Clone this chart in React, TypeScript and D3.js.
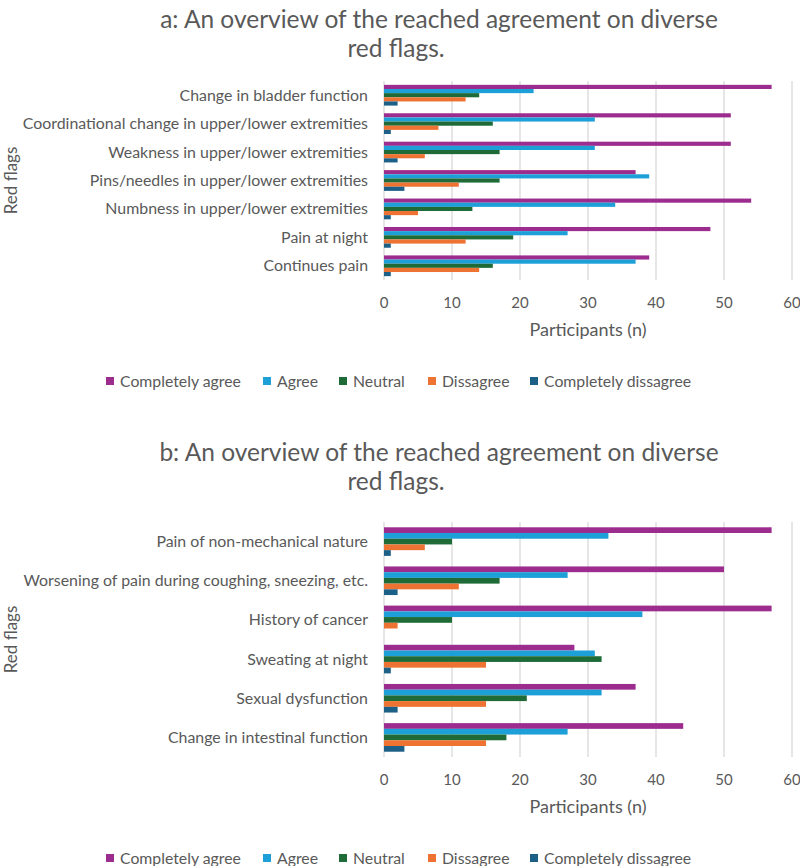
import React from "react";
import * as d3 from "d3";

// ---------- data ----------
const seriesNames = ["Completely agree", "Agree", "Neutral", "Dissagree", "Completely dissagree"];
const seriesColors = ["#9C2C8E", "#1D9FD8", "#1E6B38", "#EE7231", "#1C5F87"];

const categoriesA = [
  "Change in bladder function",
  "Coordinational change in upper/lower extremities",
  "Weakness in upper/lower extremities",
  "Pins/needles in upper/lower extremities",
  "Numbness in upper/lower extremities",
  "Pain at night",
  "Continues pain",
];
const completelyAgreeA = [57, 51, 51, 37, 54, 48, 39];
const agreeA = [22, 31, 31, 39, 34, 27, 37];
const neutralA = [14, 16, 17, 17, 13, 19, 16];
const dissagreeA = [12, 8, 6, 11, 5, 12, 14];
const completelyDissagreeA = [2, 1, 2, 3, 1, 1, 1];

const categoriesB = [
  "Pain of non-mechanical nature",
  "Worsening of pain during coughing, sneezing, etc.",
  "History of cancer",
  "Sweating at night",
  "Sexual dysfunction",
  "Change in intestinal function",
];
const completelyAgreeB = [57, 50, 57, 28, 37, 44];
const agreeB = [33, 27, 38, 31, 32, 27];
const neutralB = [10, 17, 10, 32, 21, 18];
const dissagreeB = [6, 11, 2, 15, 15, 15];
const completelyDissagreeB = [1, 2, 0, 1, 2, 3];

const xTicks = [0, 10, 20, 30, 40, 50, 60];
const titleA = ["a: An overview of the reached agreement on diverse", "red flags."];
const titleB = ["b: An overview of the reached agreement on diverse", "red flags."];
const yAxisTitle = "Red flags";
const xAxisTitle = "Participants (n)";

// ---------- layout ----------
const FONT = "Lato, 'Open Sans', sans-serif";
const TEXT = "#595959";
const GRID = "#D9D9D9";
const X0 = 384;
const X1 = 792;
const legendX = [106, 263, 339, 428, 530];

type PanelProps = {
  title: string[];
  categories: string[];
  series: number[][];
  plotTop: number;
  plotBottom: number;
  titleY: number;
};

function Panel({ title, categories, series, plotTop, plotBottom, titleY }: PanelProps) {
  const x = d3.scaleLinear().domain([0, 60]).range([X0, X1]);
  const y = d3
    .scaleBand<string>()
    .domain(categories)
    .range([plotTop, plotBottom])
    .paddingInner(0.27)
    .paddingOuter(0.135);
  const inner = d3.scaleBand<string>().domain(seriesNames).range([0, y.bandwidth()]);
  const plotMid = (plotTop + plotBottom) / 2;

  return (
    <g fontFamily={FONT} fill={TEXT}>
      <text x={439} y={titleY} textAnchor="middle" fontSize={24.5}>
        {title[0]}
      </text>
      <text x={396} y={titleY + 28.5} textAnchor="middle" fontSize={24.5}>
        {title[1]}
      </text>

      {xTicks.map((t) => (
        <line
          key={"g" + t}
          x1={x(t)}
          x2={x(t)}
          y1={plotTop}
          y2={plotBottom}
          stroke={GRID}
          strokeWidth={1.3}
        />
      ))}

      {categories.map((c, ci) => (
        <g key={c}>
          {series.map((s, si) => (
            <rect
              key={si}
              x={x(0)}
              y={(y(c) as number) + (inner(seriesNames[si]) as number)}
              width={x(s[ci]) - x(0)}
              height={inner.bandwidth()}
              fill={seriesColors[si]}
            />
          ))}
          <text
            x={368}
            y={(y(c) as number) + y.bandwidth() / 2}
            dy="0.35em"
            textAnchor="end"
            fontSize={15.9}
          >
            {c}
          </text>
        </g>
      ))}

      {xTicks.map((t) => (
        <text key={"t" + t} x={x(t)} y={plotBottom + 23} dy="0.35em" textAnchor="middle" fontSize={15}>
          {t}
        </text>
      ))}

      <text x={588} y={plotBottom + 50} dy="0.35em" textAnchor="middle" fontSize={18}>
        {xAxisTitle}
      </text>

      <text
        transform={`translate(17,${plotMid}) rotate(-90)`}
        textAnchor="middle"
        fontSize={17}
      >
        {yAxisTitle}
      </text>

      {seriesNames.map((n, i) => (
        <g key={n} transform={`translate(${legendX[i]},${plotBottom + 101})`}>
          <rect x={0} y={-4} width={8} height={8} fill={seriesColors[i]} />
          <text x={14} y={0} dy="0.35em" fontSize={15.8}>
            {n}
          </text>
        </g>
      ))}
    </g>
  );
}

export default function App() {
  const seriesA = [completelyAgreeA, agreeA, neutralA, dissagreeA, completelyDissagreeA];
  const seriesB = [completelyAgreeB, agreeB, neutralB, dissagreeB, completelyDissagreeB];
  return (
    <div style={{ position: "absolute", left: 0, top: 0 }}>
      <svg width={800} height={866} style={{ display: "block", background: "#fff" }}>
        <Panel title={titleA} categories={categoriesA} series={seriesA} plotTop={81} plotBottom={280} titleY={28} />
        <Panel title={titleB} categories={categoriesB} series={seriesB} plotTop={522} plotBottom={757} titleY={461} />
      </svg>
    </div>
  );
}
